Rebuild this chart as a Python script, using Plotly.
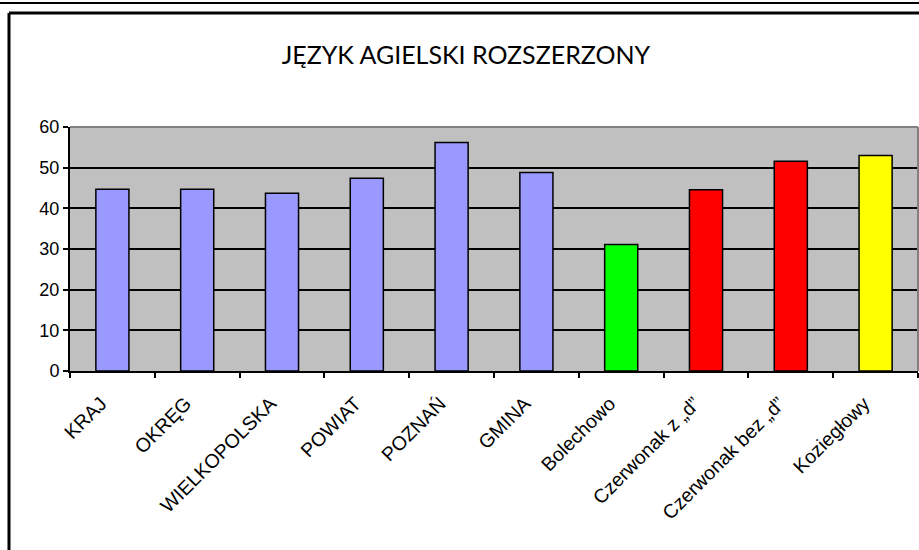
import plotly.graph_objects as go

categories = ["KRAJ", "OKRĘG", "WIELKOPOLSKA", "POWIAT", "POZNAŃ", "GMINA",
              "Bolechowo", "Czerwonak z „d”", "Czerwonak bez „d”", "Koziegłowy"]
values = [44.7, 44.7, 43.7, 47.4, 56.2, 48.8, 31.1, 44.6, 51.6, 53.0]
bar_colors = ["#9999FF"] * 6 + ["#00FF00", "#FF0000", "#FF0000", "#FFFF00"]
y_ticks = [0, 10, 20, 30, 40, 50, 60]
title_text = "JĘZYK AGIELSKI ROZSZERZONY"

W, H = 919, 550
L, R, T, B = 70, 1, 127, 179
pw = W - L - R
ph = H - T - B


def xp(px):
    return (px - L) / pw


def yp(py):
    return (H - B - py) / ph


fig = go.Figure(go.Bar(
    x=categories, y=values,
    marker=dict(color=bar_colors, line=dict(color="black", width=1.5)),
))

shapes = [
    # page frame lines
    dict(type="line", xref="paper", yref="paper", x0=xp(0), x1=xp(W), y0=yp(3), y1=yp(3),
         line=dict(color="black", width=2)),
    dict(type="line", xref="paper", yref="paper", x0=xp(9), x1=xp(W), y0=yp(13), y1=yp(13),
         line=dict(color="black", width=3)),
    dict(type="line", xref="paper", yref="paper", x0=xp(9), x1=xp(9), y0=yp(13), y1=yp(H),
         line=dict(color="black", width=3)),
    # plot area top / right border in gray
    dict(type="line", xref="paper", yref="paper", x0=0, x1=1, y0=1, y1=1,
         line=dict(color="#808080", width=2), layer="above"),
    dict(type="line", xref="paper", yref="paper", x0=1, x1=1, y0=0, y1=1,
         line=dict(color="#808080", width=2), layer="above"),
]

fig.update_layout(
    width=W, height=H,
    margin=dict(l=L, r=R, t=T, b=B, autoexpand=False),
    paper_bgcolor="white",
    plot_bgcolor="#C0C0C0",
    bargap=0.61,
    showlegend=False,
    title=dict(text=title_text, x=0.507, xref="container", xanchor="center",
               y=1 - 55 / H, yref="container", yanchor="middle",
               font=dict(family="Lato", size=25, color="black")),
    shapes=shapes,
    font=dict(family="Liberation Sans, Arial", color="black"),
)

pad = "\u00a0" * 3
fig.update_xaxes(
    showgrid=False, showline=True, linecolor="black", linewidth=2,
    ticks="outside", tickson="boundaries", ticklen=5, tickcolor="black", tickwidth=1.5,
    tickmode="array", tickvals=categories, ticktext=[c + pad for c in categories],
    tickangle=-45, tickfont=dict(size=19.5, family="Liberation Sans, Arial", color="black"),
)
fig.update_yaxes(
    range=[0, 60], tickvals=y_ticks, showgrid=True, gridcolor="black", gridwidth=2,
    showline=True, linecolor="black", linewidth=2, zeroline=False,
    ticks="outside", ticklen=5, tickcolor="black", tickwidth=1.5,
    tickfont=dict(size=18, family="Liberation Sans, Arial", color="black"),
)

fig.write_html("out.html", config={"displayModeBar": False},
               post_script="document.body.style.margin='0';document.body.style.overflow='hidden';")
